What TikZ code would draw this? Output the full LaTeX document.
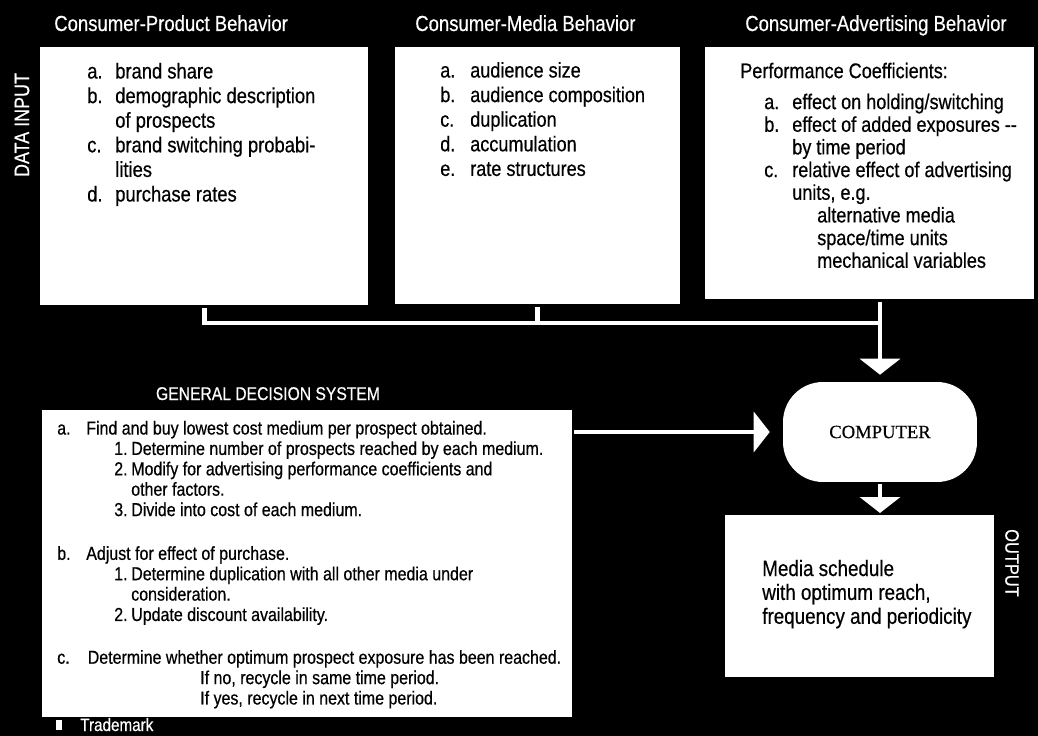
\documentclass[tikz,border=0pt]{standalone}
\usepackage{fontspec}
\setmainfont{Liberation Sans}[FakeStretch=0.85,FakeBold=0.5]
\newfontfamily\compfont{Liberation Serif}[FakeBold=0.5]
\usetikzlibrary{arrows.meta}

\begin{document}
\begin{tikzpicture}[x=0.02cm,y=-0.02cm,>={Triangle[width=0.8cm,length=0.32cm]},
                    line width=2.6pt,
                    box node/.style={rectangle,fill=white,draw=none,inner sep=0pt,anchor=north west},
                    list node/.style={inner sep=0pt,anchor=north west,text=black},
                    title node/.style={text=white,inner sep=0pt,anchor=base west,font=\fontsize{12.4}{14}\selectfont},
                    side node/.style={text=white,inner sep=0pt,font=\fontsize{11}{12}\selectfont}]
  \fill[black] (0,0) rectangle (1038,736);
  \useasboundingbox (0,0) rectangle (1038,736);

  % data input boxes
  \node[box node,minimum width=6.56cm,minimum height=5.16cm] (prodbox) at (38,45) {};
  \node[box node,minimum width=5.7cm,minimum height=5.14cm] (mediabox) at (393,45) {};
  \node[box node,minimum width=6.58cm,minimum height=5.04cm] (advbox) at (703,45) {};
  \node[title node] (prodtitle) at (52,31) {Consumer-Product Behavior};
  \node[title node] (mediatitle) at (413,31) {Consumer-Media Behavior};
  \node[title node] (advtitle) at (743,31) {Consumer-Advertising Behavior};
  \node[side node,rotate=90,font=\fontsize{12}{13}\selectfont] (datain) at (22,125) {DATA INPUT};

  \node[list node,font=\fontsize{12.3}{14}\selectfont] (prodtext) at (85,59) {%
    \begin{tabular}{@{}p{0.56cm}@{}l@{}}
      a. & brand share\\
      b. & demographic description\\
         & of prospects\\
      c. & brand switching probabi-\\
         & lities\\
      d. & purchase rates
    \end{tabular}};
  \node[list node,font=\fontsize{12.1}{14}\selectfont] (mediatext) at (438,58) {%
    \begin{tabular}{@{}p{0.6cm}@{}l@{}}
      a. & audience size\\
      b. & audience composition\\
      c. & duplication\\
      d. & accumulation\\
      e. & rate structures
    \end{tabular}};
  \node[list node,font=\fontsize{12.1}{12.9}\selectfont] (advtext) at (738,60) {%
    \begin{tabular}{@{}p{0.48cm}@{}p{0.56cm}@{}p{0.5cm}@{}l@{}}
      \multicolumn{4}{@{}l@{}}{Performance Coefficients:}\\[0.166cm]
      & a. & \multicolumn{2}{@{}l@{}}{effect on holding/switching}\\
      & b. & \multicolumn{2}{@{}l@{}}{effect of added exposures -{}-}\\
      &    & \multicolumn{2}{@{}l@{}}{by time period}\\
      & c. & \multicolumn{2}{@{}l@{}}{relative effect of advertising}\\
      &    & \multicolumn{2}{@{}l@{}}{units, e.g.}\\
      &    & & alternative media\\
      &    & & space/time units\\
      &    & & mechanical variables
    \end{tabular}};

  % decision system
  \node[box node,minimum width=10.6cm,minimum height=6.14cm] (decbox) at (40,408) {};
  \node[text=white,inner sep=0pt,anchor=base,font=\fontsize{10.5}{12}\selectfont] (dectitle) at (268,400) {GENERAL DECISION SYSTEM};
  \node[list node,font=\fontsize{10.7}{11.6}\selectfont] (dectext) at (55,418) {%
    \begin{tabular}{@{}p{0.58cm}@{}p{0.56cm}@{}p{0.34cm}@{}l@{}}
      a. & \multicolumn{3}{@{}l@{}}{Find and buy lowest cost medium per prospect obtained.}\\
         & & 1. & Determine number of prospects reached by each medium.\\
         & & 2. & Modify for advertising performance coefficients and\\
         & & & other factors.\\
         & & 3. & Divide into cost of each medium.\\
         & & & \\[0.06cm]
      b. & \multicolumn{3}{@{}l@{}}{Adjust for effect of purchase.}\\
         & & 1. & Determine duplication with all other media under\\
         & & & consideration.\\
         & & 2. & Update discount availability.\\
         & & & \\[0.04cm]
      c. & \multicolumn{3}{@{}l@{}}{\hspace{0.03cm}Determine whether optimum prospect exposure has been reached.}\\
         & & & \hspace{1.38cm}If no, recycle in same time period.\\
         & & & \hspace{1.38cm}If yes, recycle in next time period.
    \end{tabular}};

  % computer and output
  \node[rectangle,rounded corners=0.8cm,fill=white,minimum width=3.88cm,minimum height=2cm,
        font=\compfont\fontsize{10.6}{12}\selectfont] (comp) at (880,432) {COMPUTER};
  \node[box node,minimum width=5.38cm,minimum height=3.24cm] (outbox) at (723,513) {};
  \node[list node,font=\fontsize{12.6}{13.6}\selectfont] (outtext) at (760,557) {%
    \begin{tabular}{@{}l@{}}
      Media schedule\\
      with optimum reach,\\
      frequency and periodicity
    \end{tabular}};
  \node[side node,rotate=-90] (output) at (1012,563) {OUTPUT};

  \node[fill=white,inner sep=0pt,minimum width=0.12cm,minimum height=0.2cm] (tmmark) at (59,725) {};
  \node[text=white,inner sep=0pt,anchor=base west,font=\fontsize{10.2}{11}\selectfont] (tm) at (78,731) {Trademark};

  % connectors
  \coordinate (bus) at (880,323);
  \draw[white] (prodbox.south) |- (bus);
  \draw[white] (mediabox.south) -- (mediabox.south |- bus);
  \draw[white] (advbox.south -| bus) -- (bus);
  \draw[white,->,shorten >=0.1cm] (bus) -- (comp.north);
  \draw[white,->,shorten >=0.22cm] (decbox.east |- comp.west) -- (comp.west);
  \draw[white,->] (comp.south) -- (comp.south |- outbox.north);
\end{tikzpicture}
\end{document}
